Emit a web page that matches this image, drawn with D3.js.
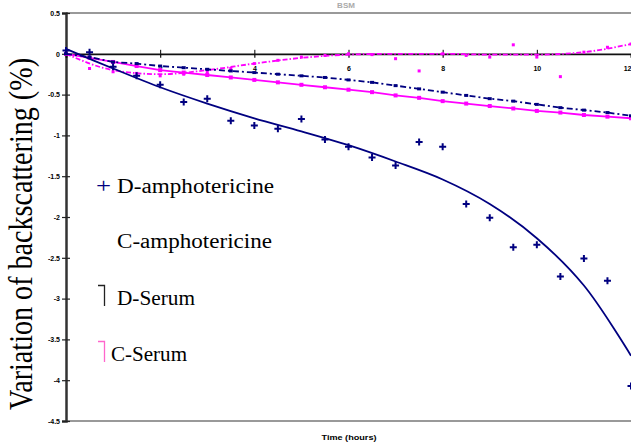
<!DOCTYPE html>
<html><head><meta charset="utf-8">
<script src="https://cdn.jsdelivr.net/npm/d3@7"></script>
<style>body{margin:0;background:#fff}svg{display:block}</style>
</head><body>
<svg id="c" width="631" height="446"></svg>
<script>
const hours = [0,0.5,1,1.5,2,2.5,3,3.5,4,4.5,5,5.5,6,6.5,7,7.5,8,8.5,9,9.5,10,10.5,11,11.5,12];
const dAmpho = [0.04,0.02,-0.16,-0.27,-0.38,-0.59,-0.55,-0.82,-0.88,-0.92,-0.80,-1.05,-1.14,-1.27,-1.37,-1.08,-1.14,-1.84,-2.01,-2.37,-2.34,-2.73,-2.51,-2.78,-4.07];
const cAmpho = [0.0,-0.18,-0.22,-0.24,-0.27,-0.25,-0.22,-0.18,-0.12,-0.08,-0.04,-0.02,0.0,-0.01,-0.06,-0.21,0.0,-0.02,-0.04,0.11,-0.04,-0.28,0.02,0.08,0.12];
const dSerum = [0.0,-0.04,-0.10,-0.12,-0.15,-0.17,-0.19,-0.21,-0.23,-0.25,-0.27,-0.29,-0.32,-0.35,-0.39,-0.43,-0.47,-0.51,-0.55,-0.58,-0.62,-0.66,-0.69,-0.72,-0.76];
const cSerum = [0.0,-0.05,-0.10,-0.15,-0.20,-0.23,-0.26,-0.29,-0.32,-0.35,-0.38,-0.41,-0.44,-0.47,-0.51,-0.54,-0.58,-0.61,-0.64,-0.67,-0.70,-0.72,-0.75,-0.77,-0.79];
const fitHours = [0,1,2,3,4,5,6,7,8,9,10,11,12];
const dAmphoFit = [0.06,-0.18,-0.41,-0.61,-0.79,-0.95,-1.12,-1.32,-1.54,-1.84,-2.26,-2.84,-3.70];
const cAmphoLine = [0.0,-0.20,-0.25,-0.20,-0.12,-0.05,-0.01,0.0,0.0,-0.01,-0.01,0.02,0.12];
const xTicks = [0,2,4,6,8,10,12];
const xTickLabels = ["","2","4","6","8","10","12"];
const yTicks = [0.5,0,-0.5,-1,-1.5,-2,-2.5,-3,-3.5,-4,-4.5];
const yTickLabels = ["0.5","0","-0.5","-1","-1.5","-2","-2.5","-3","-3.5","-4","-4.5"];
const legendNames = ["D-amphotericine","C-amphotericine","D-Serum","C-Serum"];

const svg = d3.select("#c");
const x = d3.scaleLinear([0,12],[66,631]);
const y = d3.scaleLinear([0.5,-4.5],[13,421]);
const navy = "#000080", pink = "#ff00ff";

// frame lines (top / bottom gray)
svg.append("line").attr("x1",66).attr("x2",631).attr("y1",y(0.5)).attr("y2",y(0.5)).attr("stroke","#999").attr("stroke-width",2);
svg.append("line").attr("x1",66).attr("x2",631).attr("y1",y(-4.5)).attr("y2",y(-4.5)).attr("stroke","#999").attr("stroke-width",2);

// y axis
const fmtY = d => yTickLabels[yTicks.indexOf(d)];
const ya = svg.append("g").attr("transform","translate(66,0)")
  .call(d3.axisLeft(y).tickValues(yTicks).tickFormat(fmtY).tickSize(4).tickPadding(2));
svg.append("g").attr("transform","translate(66,0)")
  .call(d3.axisRight(y).tickValues(yTicks).tickFormat("").tickSize(4)).select(".domain").remove();
ya.select(".domain").attr("stroke","#333").attr("stroke-width",2.5);
svg.selectAll(".tick line").attr("stroke","#222").attr("stroke-width",1.2);
ya.selectAll("text").attr("font-family","Liberation Sans, Arial").attr("font-weight","bold").attr("font-size",7).attr("fill","#000");

// x axis on zero line
const fmtX = d => xTickLabels[xTicks.indexOf(d)];
const xa = svg.append("g").attr("transform",`translate(0,${y(0)})`)
  .call(d3.axisBottom(x).tickValues(xTicks).tickFormat(fmtX).tickSize(4).tickPadding(8));
svg.append("g").attr("transform",`translate(0,${y(0)})`)
  .call(d3.axisTop(x).tickValues(xTicks).tickFormat("").tickSize(4)).select(".domain").remove();
xa.select(".domain").attr("stroke","#111").attr("stroke-width",1.8);
xa.selectAll(".tick line").attr("stroke","#111").attr("stroke-width",1.2);
xa.selectAll("text").attr("font-family","Liberation Sans, Arial").attr("font-weight","bold").attr("font-size",7).attr("fill","#000")
  .attr("text-anchor",d=>d===12?"end":"middle");

const line = d3.line().x(d=>x(d[0])).y(d=>y(d[1]));

// C-amphotericine dash-dot pink
svg.append("path").datum(fitHours.map((h,i)=>[h,cAmphoLine[i]]))
  .attr("d",line.curve(d3.curveMonotoneX)).attr("fill","none").attr("stroke",pink).attr("stroke-width",1.8).attr("stroke-dasharray","5,2,1.5,2");
svg.append("g").selectAll("rect").data(hours.map((h,i)=>[h,cAmpho[i]])).join("rect")
  .attr("x",d=>x(d[0])-1.5).attr("y",d=>y(d[1])-1.5).attr("width",3).attr("height",3).attr("fill",pink);

// C-Serum solid pink
svg.append("path").datum(hours.map((h,i)=>[h,cSerum[i]]))
  .attr("d",line.curve(d3.curveLinear)).attr("fill","none").attr("stroke",pink).attr("stroke-width",1.8);
svg.append("g").selectAll("rect").data(hours.map((h,i)=>[h,cSerum[i]])).join("rect")
  .attr("x",d=>x(d[0])-2).attr("y",d=>y(d[1])-2).attr("width",4).attr("height",4).attr("fill",pink);

// D-Serum dash-dot navy
svg.append("path").datum(hours.map((h,i)=>[h,dSerum[i]]))
  .attr("d",line.curve(d3.curveLinear)).attr("fill","none").attr("stroke",navy).attr("stroke-width",1.8).attr("stroke-dasharray","6,3,2,3");
svg.append("g").selectAll("rect").data(hours.map((h,i)=>[h,dSerum[i]])).join("rect")
  .attr("x",d=>x(d[0])-2).attr("y",d=>y(d[1])-1.5).attr("width",4).attr("height",3).attr("fill",navy);

// D-amphotericine fit
svg.append("path").datum(fitHours.map((h,i)=>[h,dAmphoFit[i]]))
  .attr("d",line.curve(d3.curveCatmullRom)).attr("fill","none").attr("stroke",navy).attr("stroke-width",1.8);
// D-amphotericine points (+)
const pg = svg.append("g").selectAll("g").data(hours.map((h,i)=>[h,dAmpho[i]])).join("g")
  .attr("transform",d=>`translate(${x(d[0])},${y(d[1])})`);
pg.append("path").attr("d","M-3.5,0H3.5M0,-3.5V3.5").attr("stroke",navy).attr("stroke-width",2);

// Legend
const lf = "Liberation Serif, Times New Roman, serif";
const lg = svg.append("g").attr("font-family",lf).attr("font-size",20).attr("fill","#000");
lg.append("text").attr("x",96).attr("y",193).attr("fill",navy).attr("textLength",15).attr("lengthAdjust","spacingAndGlyphs").text("+");
const lpos = [[117,193,157],[117,248,155],[117,305,78],[111,361,76]];
legendNames.forEach((n,i)=>{
  lg.append("text").attr("x",lpos[i][0]).attr("y",lpos[i][1]).attr("textLength",lpos[i][2]).attr("lengthAdjust","spacingAndGlyphs").text(n);
});
svg.append("path").attr("d","M98,285.5H104.5V306").attr("fill","none").attr("stroke","#222").attr("stroke-width",1.3);
svg.append("path").attr("d","M98,341.5H104.5V362").attr("fill","none").attr("stroke","#ff66cc").attr("stroke-width",1.3);

// Y title
svg.append("text").attr("transform","translate(32,234) scale(1.17,1) rotate(-90)")
  .attr("text-anchor","middle").attr("font-family",lf).attr("font-size",28)
  .attr("textLength",352).attr("lengthAdjust","spacingAndGlyphs").text("Variation of backscattering (%)");

// X title
svg.append("text").attr("x",349).attr("y",440).attr("text-anchor","middle").attr("font-family","Liberation Sans, Arial")
  .attr("font-weight","bold").attr("font-size",8).attr("textLength",55).attr("lengthAdjust","spacingAndGlyphs").text("Time (hours)");

// top title (small, light gray)
svg.append("text").attr("x",346).attr("y",8).attr("text-anchor","middle").attr("font-family","Liberation Sans, Arial")
  .attr("font-weight","bold").attr("font-size",8).attr("fill","#aaa").text("BSM");
</script>
</body></html>
